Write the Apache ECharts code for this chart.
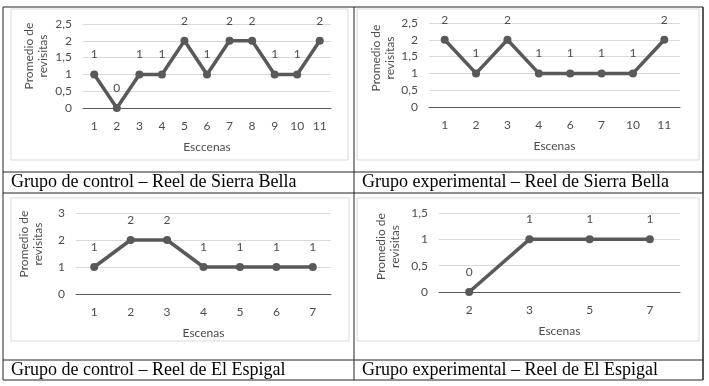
<!DOCTYPE html>
<html>
<head>
<meta charset="utf-8">
<script src="https://cdn.jsdelivr.net/npm/echarts@6/dist/echarts.min.js"></script>
<style>
  html, body { margin: 0; background: #fff; }
  #c { width: 709px; height: 386px; }
</style>
</head>
<body>
<div id="c"></div>
<script>
// data, one set per panel
const scenesCtrlSierra = ['1', '2', '3', '4', '5', '6', '7', '8', '9', '10', '11'];
const visitsCtrlSierra = [1, 0, 1, 1, 2, 1, 2, 2, 1, 1, 2];
const scenesExpSierra = ['1', '2', '3', '4', '6', '7', '10', '11'];
const visitsExpSierra = [2, 1, 2, 1, 1, 1, 1, 2];
const scenesCtrlEspigal = ['1', '2', '3', '4', '5', '6', '7'];
const visitsCtrlEspigal = [1, 2, 2, 1, 1, 1, 1];
const scenesExpEspigal = ['2', '3', '5', '7'];
const visitsExpEspigal = [0, 1, 1, 1];
const yMax = [2.5, 2.5, 3, 1.5];
const yStep = [0.5, 0.5, 1, 0.5];
const xNames = ['Esccenas', 'Escenas', 'Escenas', 'Escenas'];
const captions = [
  'Grupo de control – Reel de Sierra Bella',
  'Grupo experimental – Reel de Sierra Bella',
  'Grupo de control – Reel de El Espigal',
  'Grupo experimental – Reel de El Espigal',
];

const panels = [
  { cats: scenesCtrlSierra, vals: visitsCtrlSierra },
  { cats: scenesExpSierra, vals: visitsExpSierra },
  { cats: scenesCtrlEspigal, vals: visitsCtrlEspigal },
  { cats: scenesExpEspigal, vals: visitsExpEspigal },
];

// layout of each plot area (px)
const boxes = [
  { left: 83, top: 24, width: 248, height: 84, nameGap: 33, shift: 20 },
  { left: 429, top: 23, width: 251, height: 84, nameGap: 32, shift: 14 },
  { left: 76, top: 213, width: 255, height: 81, nameGap: 31, shift: 19 },
  { left: 439, top: 213, width: 241, height: 79, nameGap: 37, shift: 12 },
];

const GRAY = '#595959';
const TXT = '#4d4d4d';
const FONT = 'Lato';
const fmt = (v) => String(v).replace('.', ',');

const chart = echarts.init(document.getElementById('c'));

const line = (x1, y1, x2, y2, w) => ({
  type: 'line',
  shape: { x1, y1, x2, y2 },
  style: { stroke: '#222', lineWidth: w || 1 },
  silent: true,
});
const frame = (x, y, width, height) => ({
  type: 'rect',
  shape: { x, y, width, height },
  style: { fill: null, stroke: '#d9d9d9', lineWidth: 1 },
  silent: true,
});
const caption = (x, y, text) => ({
  type: 'text',
  x, y,
  style: {
    text, fill: '#000', font: '18px "Liberation Serif"',
    textVerticalAlign: 'middle',
  },
  silent: true,
});

chart.setOption({
  animation: false,
  grid: boxes.map((b) => ({
    left: b.left, top: b.top, width: b.width, height: b.height,
  })),
  xAxis: panels.map((p, i) => ({
    type: 'category',
    gridIndex: i,
    data: p.cats,
    name: xNames[i],
    nameLocation: 'middle',
    nameGap: 33,
    nameTextStyle: { color: TXT, fontSize: 12, fontFamily: FONT },
    axisLine: { lineStyle: { color: GRAY, width: 1 } },
    axisTick: { show: false },
    axisLabel: { color: TXT, fontSize: 12, fontFamily: FONT, margin: 12 },
  })),
  yAxis: panels.map((p, i) => ({
    type: 'value',
    gridIndex: i,
    min: 0,
    max: yMax[i],
    interval: yStep[i],
    name: 'Promedio de\nrevisitas',
    nameLocation: 'middle',
    nameGap: boxes[i].nameGap,
    nameTextStyle: {
      color: TXT, fontSize: 12, fontFamily: FONT, lineHeight: 14,
      padding: [0, 0, 0, boxes[i].shift],
    },
    axisLine: { show: false },
    axisTick: { show: false },
    splitLine: { lineStyle: { color: '#d9d9d9' } },
    axisLabel: {
      color: TXT, fontSize: 12, fontFamily: FONT, margin: 11,
      formatter: fmt,
    },
  })),
  series: panels.map((p, i) => ({
    type: 'line',
    xAxisIndex: i,
    yAxisIndex: i,
    data: p.vals,
    symbol: 'circle',
    symbolSize: 8,
    lineStyle: { color: GRAY, width: 3.5 },
    itemStyle: { color: GRAY },
    label: {
      show: true, position: 'top', distance: 10,
      color: TXT, fontSize: 12, fontFamily: FONT,
    },
  })),
  graphic: [
    frame(11, 9, 337, 151),
    frame(357, 9, 342, 151),
    frame(11, 198, 338, 143),
    frame(357, 198, 342, 143),
    line(3, 7, 703, 7),
    line(3, 172, 703, 172),
    line(3, 193, 703, 193),
    line(3, 360, 703, 360),
    line(3, 380, 703, 380),
    line(3, 7, 3, 380),
    line(354, 7, 354, 380),
    line(703, 7, 703, 380, 1.5),
    caption(11, 182, captions[0]),
    caption(362, 182, captions[1]),
    caption(11, 370, captions[2]),
    caption(362, 370, captions[3]),
  ],
});
</script>
</body>
</html>
